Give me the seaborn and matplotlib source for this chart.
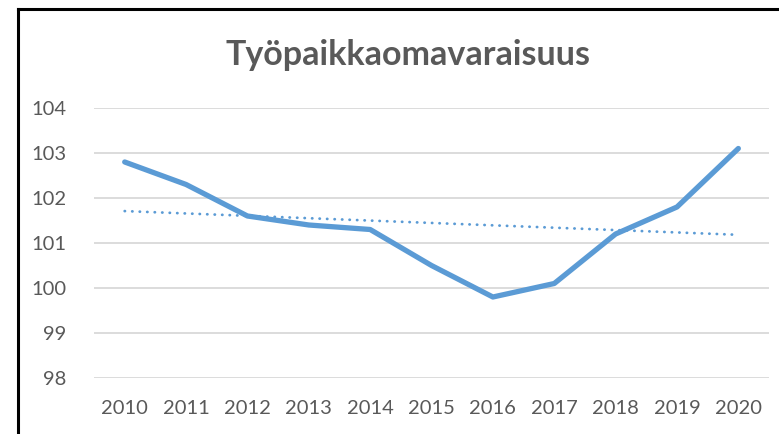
import numpy as np
import pandas as pd
import matplotlib
matplotlib.use('Agg')
import matplotlib.pyplot as plt
import seaborn as sns
from matplotlib.lines import Line2D

years = [2010, 2011, 2012, 2013, 2014, 2015, 2016, 2017, 2018, 2019, 2020]
values = [102.8, 102.3, 101.6, 101.4, 101.3, 100.5, 99.8, 100.1, 101.2, 101.8, 103.1]
y_ticks = [98, 99, 100, 101, 102, 103, 104]

df = pd.DataFrame({'year': years, 'value': values})

sns.set_style('white')
plt.rcParams['font.family'] = ['Lato', 'DejaVu Sans']

blue = '#5B9BD5'
gray = '#595959'

fig = plt.figure(figsize=(7.79, 4.34), dpi=100)
ax = fig.add_axes([0.1207, 0.1290, 0.8665, 0.6222])

sns.lineplot(data=df, x='year', y='value', color=blue, linewidth=3.8,
             ax=ax, solid_joinstyle='round', solid_capstyle='round')
# linear trendline like Excel
sns.regplot(data=df, x='year', y='value', scatter=False, ci=None, ax=ax,
            line_kws={'color': blue, 'linestyle': (0, (0.1, 2.6)), 'linewidth': 2.0,
                      'dash_capstyle': 'round'})

ax.set_xlim(years[0] - 0.5, years[-1] + 0.5)
ax.set_ylim(98, 104)
ax.set_xticks(years)
ax.set_xticklabels([str(y) for y in years])
ax.set_yticks(y_ticks)
ax.set_xlabel('')
ax.set_ylabel('')
ax.grid(axis='y', color='#D9D9D9', linewidth=1.3)
ax.set_axisbelow(True)
for s in ax.spines.values():
    s.set_visible(False)
ax.tick_params(axis='both', length=0, labelsize=14.5, labelcolor=gray)
ax.tick_params(axis='y', pad=20)
ax.tick_params(axis='x', pad=16)

fig.text(0.524, 0.873, 'Työpaikkaomavaraisuus', ha='center', va='center',
         fontsize=24.5, fontweight='bold', color=gray)

# chart frame (left and top edges visible in the screenshot)
fig.add_artist(Line2D([17.5 / 779, 17.5 / 779], [0, 1 - 9 / 434], color='black', linewidth=2.2,
                      transform=fig.transFigure, solid_capstyle='projecting'))
fig.add_artist(Line2D([17.5 / 779, 1], [1 - 9 / 434, 1 - 9 / 434], color='black', linewidth=2.2,
                      transform=fig.transFigure, solid_capstyle='projecting'))

fig.savefig('out.png', dpi=100)
